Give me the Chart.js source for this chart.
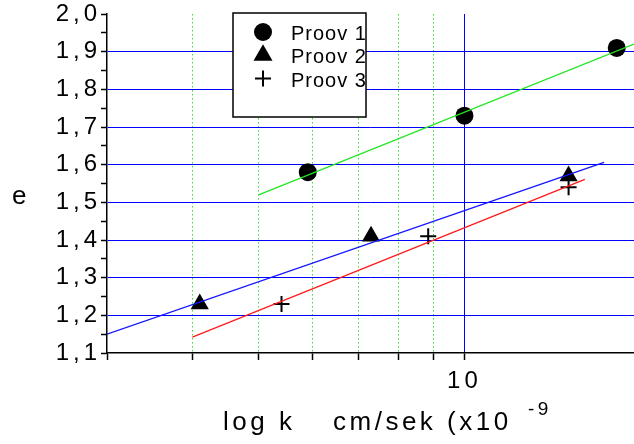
<!DOCTYPE html>
<html>
<head>
<meta charset="utf-8">
<script src="https://cdn.jsdelivr.net/npm/chart.js@4.4.1/dist/chart.umd.min.js"></script>
<style>
  body { margin: 0; background: #fff; }
</style>
</head>
<body>
<canvas id="chart" width="634" height="444"></canvas>
<script>
// measured points, k in cm/sek (x10^-9) and e
var proov1K = [5.9, 10.0, 16.7];
var proov1E = [1.58, 1.73, 1.91];
var proov2K = [4.1, 7.3, 14.2];
var proov2E = [1.23, 1.41, 1.57];
var proov3K = [5.4, 8.85, 14.2];
var proov3E = [1.23, 1.41, 1.54];

// fitted lines, start and end
var fit1K = [5.0, 17.7];
var fit1E = [1.52, 1.92];
var fit2K = [3.0, 16.0];
var fit2E = [1.15, 1.606];
var fit3K = [4.0, 15.0];
var fit3E = [1.142, 1.561];

// axis ticks
var kTicks = [3, 4, 5, 6, 7, 8, 9, 10];
var kLabels = ['', '', '', '', '', '', '', '10'];
var eTicks = [1.1, 1.2, 1.3, 1.4, 1.5, 1.6, 1.7, 1.8, 1.9, 2.0];
var eLabels = ['1,1', '1,2', '1,3', '1,4', '1,5', '1,6', '1,7', '1,8', '1,9', '2,0'];
var eMinor = [1.15, 1.25, 1.35, 1.45, 1.55, 1.65, 1.75, 1.85, 1.95];

var FONT = '"Liberation Sans", Arial, Helvetica, sans-serif';
var NONE = 'rgba(0,0,0,0)';

function pts(xs, ys) {
  return xs.map(function (x, i) { return { x: x, y: ys[i] }; });
}
function eIndex(v) {
  for (var i = 0; i < eTicks.length; i++) {
    if (Math.abs(eTicks[i] - v) < 1e-6) return i;
  }
  return -1;
}

// wide letter spacing like the original
var spacing = {
  id: 'spacing',
  beforeDraw: function (chart) { chart.ctx.letterSpacing = '4px'; }
};

// axis titles and the boxed legend
var extras = {
  id: 'extras',
  afterDraw: function (chart) {
    var ctx = chart.ctx;
    ctx.save();
    ctx.fillStyle = '#000';
    ctx.textAlign = 'left';
    ctx.textBaseline = 'alphabetic';
    ctx.letterSpacing = '3.5px';
    ctx.font = '26px ' + FONT;
    ctx.fillText('e', 12, 204);
    ctx.fillText('log k', 223, 430);
    ctx.fillText('cm/sek (x10', 333, 430);
    ctx.font = '19px ' + FONT;
    ctx.fillText('-9', 528, 415);
    ctx.restore();

    // legend
    var l = 233, t = 13, r = 366, b = 117;
    ctx.save();
    ctx.fillStyle = '#fff';
    ctx.fillRect(l, t, r - l, b - t);
    ctx.beginPath();
    ctx.rect(l, t, r - l, b - t);
    ctx.clip();
    var row = 0;
    chart.data.datasets.forEach(function (ds) {
      if (!ds.inLegend) return;
      var y = 31 + row * 23.3;
      ctx.fillStyle = '#000';
      ctx.strokeStyle = '#000';
      ctx.lineWidth = 2;
      Chart.helpers.drawPoint(ctx, {
        pointStyle: ds.pointStyle,
        radius: ds.pointStyle === 'triangle' ? 11 : (ds.pointStyle === 'cross' ? 8 : 9),
        borderWidth: ds.pointStyle === 'cross' ? 2 : 0,
        rotation: 0
      }, 263, y + 1);
      ctx.letterSpacing = '1px';
      ctx.font = '20px ' + FONT;
      ctx.textBaseline = 'alphabetic';
      ctx.fillText(ds.label, 291, y + 9);
      row++;
    });
    ctx.restore();
    ctx.save();
    ctx.strokeStyle = '#000';
    ctx.lineWidth = 1.5;
    ctx.strokeRect(l, t, r - l, b - t);
    ctx.restore();
  }
};

var ctx = document.getElementById('chart').getContext('2d');
var chart = new Chart(ctx, {
  type: 'scatter',
  data: {
    datasets: [
      { type: 'line', label: 'fit 1', data: pts(fit1K, fit1E), showLine: true,
        borderColor: '#22e622', borderWidth: 1.3, pointRadius: 0, fill: false },
      { type: 'line', label: 'fit 2', data: pts(fit2K, fit2E), showLine: true,
        borderColor: '#1414ff', borderWidth: 1.3, pointRadius: 0, fill: false },
      { type: 'line', label: 'fit 3', data: pts(fit3K, fit3E), showLine: true,
        borderColor: '#ff1a1a', borderWidth: 1.3, pointRadius: 0, fill: false },
      { label: 'Proov 1', data: pts(proov1K, proov1E), inLegend: true,
        pointStyle: 'circle', pointRadius: 9, pointHoverRadius: 9,
        backgroundColor: '#000', borderColor: '#000', borderWidth: 0 },
      { label: 'Proov 2', data: pts(proov2K, proov2E), inLegend: true,
        pointStyle: 'triangle', pointRadius: 10.5, pointHoverRadius: 10.5,
        backgroundColor: '#000', borderColor: '#000', borderWidth: 0 },
      { label: 'Proov 3', data: pts(proov3K, proov3E), inLegend: true,
        pointStyle: 'cross', pointRadius: 8, pointHoverRadius: 8,
        backgroundColor: '#000', borderColor: '#000', borderWidth: 2 }
    ]
  },
  options: {
    responsive: false,
    animation: false,
    devicePixelRatio: 1,
    layout: { autoPadding: false, padding: { top: 14, right: 0, bottom: 0, left: 0 } },
    plugins: {
      legend: { display: false },
      tooltip: { enabled: false }
    },
    scales: {
      x: {
        type: 'logarithmic',
        position: 'bottom',
        min: 3,
        max: 17.7,
        afterBuildTicks: function (s) {
          s.ticks = kTicks.map(function (v) { return { value: v }; });
        },
        afterFit: function (s) {
          s.height = 91;
          s.paddingLeft = 0;
          s.paddingRight = 0;
        },
        ticks: {
          autoSkip: false, maxRotation: 0, minRotation: 0, padding: 7,
          color: '#000', font: { family: FONT, size: 24 },
          callback: function (v) {
            var i = kTicks.indexOf(v);
            return i >= 0 ? kLabels[i] : '';
          }
        },
        grid: {
          color: function (c) {
            if (!c.tick) return NONE;
            if (c.tick.value === 10) return '#0000ff';
            if (c.tick.value === 3) return NONE;
            return '#33e033';
          },
          lineWidth: 1,
          tickLength: 7,
          tickColor: '#000',
          tickWidth: 1.5
        },
        border: {
          color: '#000',
          width: 1.5,
          dash: function (c) {
            return (c.tick && c.tick.value === 10) ? [] : [1.5, 2.5];
          }
        }
      },
      y: {
        min: 1.1,
        max: 2.0,
        afterBuildTicks: function (s) {
          s.ticks = eTicks.concat(eMinor).sort(function (a, b) { return a - b; })
            .map(function (v) { return { value: v }; });
        },
        afterFit: function (s) {
          s.width = 107;
          s.paddingTop = 0;
          s.paddingBottom = 0;
        },
        ticks: {
          autoSkip: false, padding: 0,
          color: '#000', font: { family: FONT, size: 24 },
          callback: function (v) {
            var i = eIndex(v);
            return i >= 0 ? eLabels[i] : '';
          }
        },
        grid: {
          color: function (c) {
            if (!c.tick) return NONE;
            var i = eIndex(c.tick.value);
            if (i <= 0 || i === eTicks.length - 1) return NONE;
            return '#0000ff';
          },
          lineWidth: 1,
          tickLength: 6,
          tickColor: '#000',
          tickWidth: 1.5
        },
        border: { color: '#000', width: 1.5 }
      }
    }
  },
  plugins: [spacing, extras]
});
</script>
</body>
</html>
